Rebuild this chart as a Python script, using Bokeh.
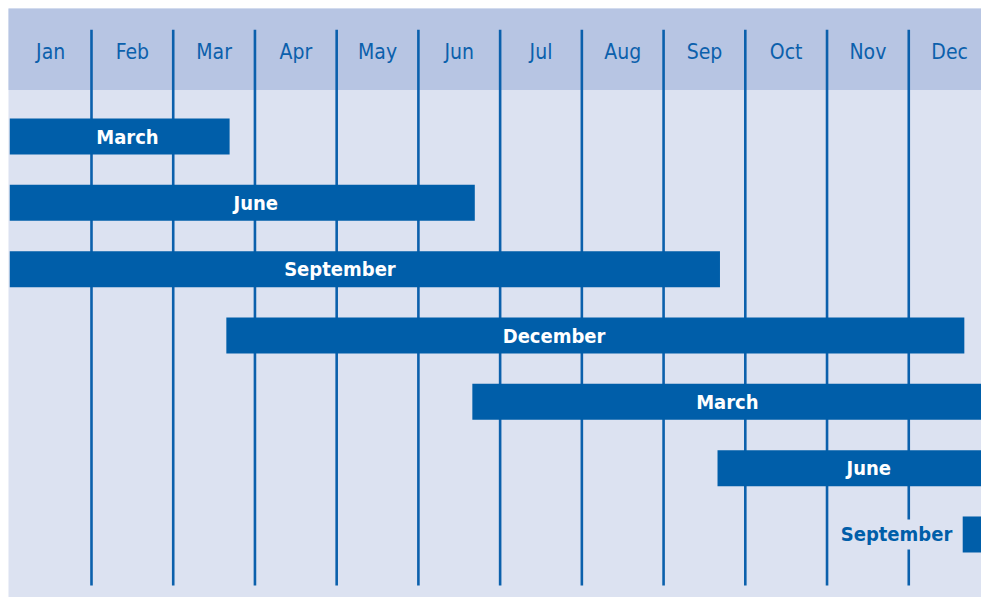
from bokeh.plotting import figure
from bokeh.models import Range1d, ColumnDataSource, Label
from bokeh.core.properties import value
from bokeh.embed import file_html
from bokeh.resources import INLINE

# ---- data ----
months = ["Jan", "Feb", "Mar", "Apr", "May", "Jun",
          "Jul", "Aug", "Sep", "Oct", "Nov", "Dec"]
bar_labels = ["March", "June", "September", "December", "March", "June", "September"]
bar_start = [0.0, 0.0, 0.0, 2.65, 5.66, 8.66, 11.66]
bar_end = [2.69, 5.69, 8.69, 11.68, 14.69, 17.69, 20.69]
label_x = [1.44, 3.01, 4.04, 6.66, 8.78, 10.51, 10.85]

# ---- style ----
BG = "#dce2f1"
HEADER = "#b7c5e3"
BLUE = "#005ea9"
LINE = "#0b60ac"
FONT = "DejaVu Sans Condensed, Roboto"

n_rows = len(bar_labels)
rows = list(range(n_rows))

p = figure(width=981, height=597, output_backend="svg", toolbar_location=None,
           x_range=Range1d(-0.0155, 11.89), y_range=Range1d(6.95, -1.93),
           x_axis_type=None, y_axis_type=None,
           min_border_left=8, min_border_top=8, min_border_right=0, min_border_bottom=0,
           background_fill_color=BG, border_fill_color="white", outline_line_color=None)
p.grid.visible = False

# header band
p.quad(left=-1, right=13, top=-3, bottom=-0.70, fill_color=HEADER, line_color=None)

# month labels
msrc = ColumnDataSource(dict(x=[i + 0.5 for i in range(len(months))],
                             y=[-1.28] * len(months), t=months))
p.text(x="x", y="y", text="t", source=msrc, text_align="center",
       text_baseline="middle", text_color=LINE, text_font=value(FONT),
       text_font_size="21px")

# month separator lines
bx = list(range(1, len(months)))
p.segment(x0=bx, x1=bx, y0=[-1.61] * len(bx), y1=[6.77] * len(bx),
          line_color=LINE, line_width=2.6)

# bars
bsrc = ColumnDataSource(dict(left=bar_start, right=bar_end, y=rows))
p.hbar(y="y", left="left", right="right", height=0.543, source=bsrc,
       fill_color=BLUE, line_color=None)

# bar labels (inside bars)
tsrc = ColumnDataSource(dict(x=label_x[:-1], y=rows[:-1], t=bar_labels[:-1]))
p.text(x="x", y="y", text="t", source=tsrc, text_align="center",
       text_baseline="middle", text_color="white", text_font=value(FONT),
       text_font_style="bold", text_font_size="20px")

# last label sits outside its bar, on a background box
p.add_layout(Label(x=label_x[-1], y=rows[-1], text=bar_labels[-1],
                   text_align="center", text_baseline="middle",
                   text_color=BLUE, text_font=FONT, text_font_style="bold",
                   text_font_size="20px", background_fill_color=BG,
                   padding=3))

open("out.html", "w").write(file_html(p, INLINE))
